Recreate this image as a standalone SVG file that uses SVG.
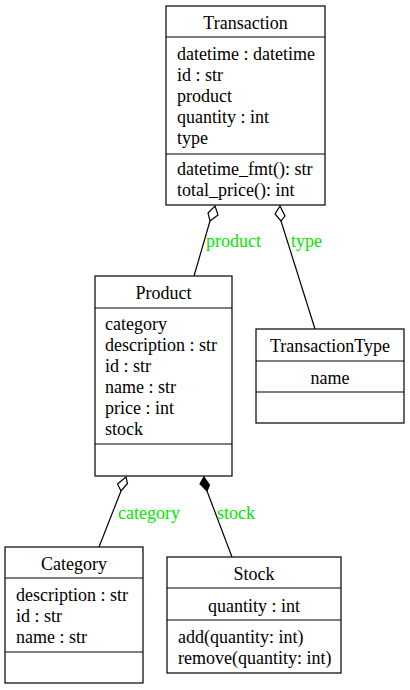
<svg xmlns="http://www.w3.org/2000/svg" width="410" height="690" viewBox="0 0 410 690">
<style>
text{font-family:"Liberation Serif","Times New Roman",serif;font-size:18px;fill:#000}
.box{fill:#fff;stroke:#000;stroke-width:1.2}
.div{stroke:#000;stroke-width:1.2}
.c{text-anchor:middle}
.lbl{fill:#00e600}
.edge{stroke:#000;stroke-width:1.2;fill:none}
.od{fill:#fff;stroke:#000;stroke-width:1.2}
.fd{fill:#000;stroke:#000;stroke-width:1.2}
</style>
<rect width="410" height="690" fill="#fff"/>
<g font-family="Liberation Serif" font-size="18">
<g id="Transaction">
<rect class="box" x="166" y="6" width="159" height="199"/>
<line class="div" x1="166" y1="37" x2="325" y2="37"/>
<line class="div" x1="166" y1="154" x2="325" y2="154"/>
<text class="c" x="245.5" y="29">Transaction</text>
<text x="177" y="60">datetime : datetime</text>
<text x="177" y="81">id : str</text>
<text x="177" y="102">product</text>
<text x="177" y="123">quantity : int</text>
<text x="177" y="144">type</text>
<text x="177" y="175">datetime_fmt(): str</text>
<text x="177" y="196">total_price(): int</text>
</g>
<g id="Product">
<rect class="box" x="95" y="276" width="137" height="200"/>
<line class="div" x1="95" y1="308" x2="232" y2="308"/>
<line class="div" x1="95" y1="444" x2="232" y2="444"/>
<text class="c" x="163.5" y="299">Product</text>
<text x="105" y="330">category</text>
<text x="105" y="351">description : str</text>
<text x="105" y="372">id : str</text>
<text x="105" y="393">name : str</text>
<text x="105" y="414">price : int</text>
<text x="105" y="435">stock</text>
</g>
<g id="TransactionType">
<rect class="box" x="256" y="329" width="148" height="94"/>
<line class="div" x1="256" y1="361" x2="404" y2="361"/>
<line class="div" x1="256" y1="392" x2="404" y2="392"/>
<text class="c" x="330" y="352">TransactionType</text>
<text class="c" x="330" y="384">name</text>
</g>
<g id="Category">
<rect class="box" x="5" y="547" width="138" height="136"/>
<line class="div" x1="5" y1="578" x2="143" y2="578"/>
<line class="div" x1="5" y1="652" x2="143" y2="652"/>
<text class="c" x="74" y="570">Category</text>
<text x="16" y="601">description : str</text>
<text x="16" y="622">id : str</text>
<text x="16" y="643">name : str</text>
</g>
<g id="Stock">
<rect class="box" x="167" y="557" width="174" height="116"/>
<line class="div" x1="167" y1="588" x2="341" y2="588"/>
<line class="div" x1="167" y1="620" x2="341" y2="620"/>
<text class="c" x="254" y="580">Stock</text>
<text class="c" x="254" y="612">quantity : int</text>
<text x="178" y="643">add(quantity: int)</text>
<text x="178" y="664">remove(quantity: int)</text>
</g>
<g id="connectors">
<line class="edge" x1="210" y1="221" x2="194" y2="276"/>
<polygon class="od" points="215,206 218,215 210,221 208,213"/>
<text class="lbl" x="206" y="247">product</text>
<line class="edge" x1="281" y1="221" x2="315" y2="329"/>
<polygon class="od" points="280,206 285,216 281,221 275,214"/>
<text class="lbl" x="291" y="247">type</text>
<line class="edge" x1="121" y1="491" x2="99" y2="547"/>
<polygon class="od" points="126,477 127.5,483.5 121,491 117.5,484"/>
<text class="lbl" x="118" y="519">category</text>
<line class="edge" x1="207" y1="491" x2="232" y2="557"/>
<polygon class="fd" points="204,477 209.5,485 207,491 200,484"/>
<text class="lbl" x="217" y="519">stock</text>
</g>
</g>
</svg>
